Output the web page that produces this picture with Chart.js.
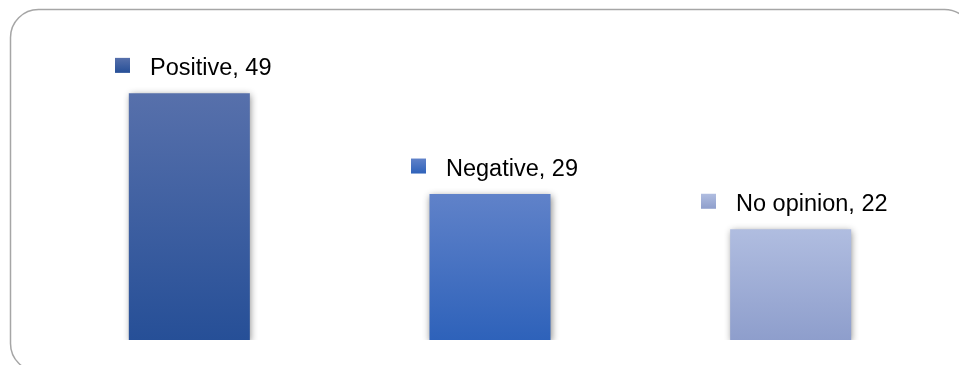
<!DOCTYPE html>
<html>
<head>
<meta charset="utf-8">
<script src="https://cdn.jsdelivr.net/npm/chart.js@4/dist/chart.umd.min.js"></script>
<style>
  html, body { margin: 0; padding: 0; background: #FFFFFF; }
  #wrap { position: relative; width: 959px; height: 365px; }
</style>
</head>
<body>
<div id="wrap"><canvas id="chart"></canvas></div>
<script>
// Survey answers, one bar per category
const categories = ['Positive', 'Negative', 'No opinion'];
const values = [49, 29, 22];
// top / bottom colours for each bar's vertical gradient
const topColors = ['#5770AB', '#6082C9', '#B0BDE0'];
const bottomColors = ['#264F97', '#2E62BA', '#8E9ECC'];

const LABEL_FONT = '23.5px "Liberation Sans", Arial, sans-serif';

function barGradient(ctx) {
  const chart = ctx.chart;
  const area = chart.chartArea;
  const yScale = chart.scales.y;
  if (!area || !yScale) return topColors[ctx.dataIndex];
  const top = yScale.getPixelForValue(values[ctx.dataIndex]);
  const g = chart.ctx.createLinearGradient(0, top, 0, area.bottom);
  g.addColorStop(0, topColors[ctx.dataIndex]);
  g.addColorStop(1, bottomColors[ctx.dataIndex]);
  return g;
}

// rounded grey frame around the whole chart
const framePlugin = {
  id: 'frame',
  beforeDraw(chart) {
    const c = chart.ctx;
    c.save();
    c.fillStyle = '#FFFFFF';
    c.fillRect(0, 0, chart.width, chart.height);
    c.beginPath();
    c.roundRect(10.5, 9.5, 962, 362, 28);
    c.strokeStyle = '#A6A6A6';
    c.lineWidth = 1.5;
    c.stroke();
    c.restore();
  }
};

// soft drop shadow under the bars
const shadowPlugin = {
  id: 'barShadow',
  beforeDatasetDraw(chart) {
    const c = chart.ctx;
    c.save();
    c.shadowColor = 'rgba(0, 0, 0, 0.45)';
    c.shadowBlur = 7;
    c.shadowOffsetX = 1;
    c.shadowOffsetY = 2;
  },
  afterDatasetDraw(chart) {
    chart.ctx.restore();
  }
};

// "Category, value" label with a small colour square above each bar
const labelPlugin = {
  id: 'barLabels',
  afterDatasetsDraw(chart) {
    const c = chart.ctx;
    const meta = chart.getDatasetMeta(0);
    c.save();
    c.font = LABEL_FONT;
    c.textBaseline = 'alphabetic';
    c.textAlign = 'left';
    meta.data.forEach((bar, i) => {
      const text = categories[i] + ', ' + values[i];
      const tw = c.measureText(text).width;
      const groupW = 15 + 20 + tw;
      const left = Math.round(bar.x + 4 - groupW / 2);
      const base = bar.y - 18.5;
      const sq = c.createLinearGradient(0, base - 17, 0, base - 2);
      sq.addColorStop(0, topColors[i]);
      sq.addColorStop(1, bottomColors[i]);
      c.fillStyle = sq;
      c.fillRect(left, base - 17, 15, 15);
      c.fillStyle = '#000000';
      c.fillText(text, left + 35, base);
    });
    c.restore();
  }
};

new Chart(document.getElementById('chart'), {
  type: 'bar',
  data: {
    labels: categories,
    datasets: [{
      data: values,
      backgroundColor: barGradient,
      borderWidth: 0,
      barPercentage: 0.4025,
      categoryPercentage: 1
    }]
  },
  options: {
    responsive: true,
    maintainAspectRatio: false,
    animation: false,
    layout: { padding: { left: 39, right: 18, top: 38, bottom: 25 } },
    scales: {
      x: { display: false },
      y: { display: false, min: 0, max: 60 }
    },
    plugins: {
      legend: { display: false },
      tooltip: { enabled: false }
    }
  },
  plugins: [framePlugin, shadowPlugin, labelPlugin]
});
</script>
</body>
</html>
